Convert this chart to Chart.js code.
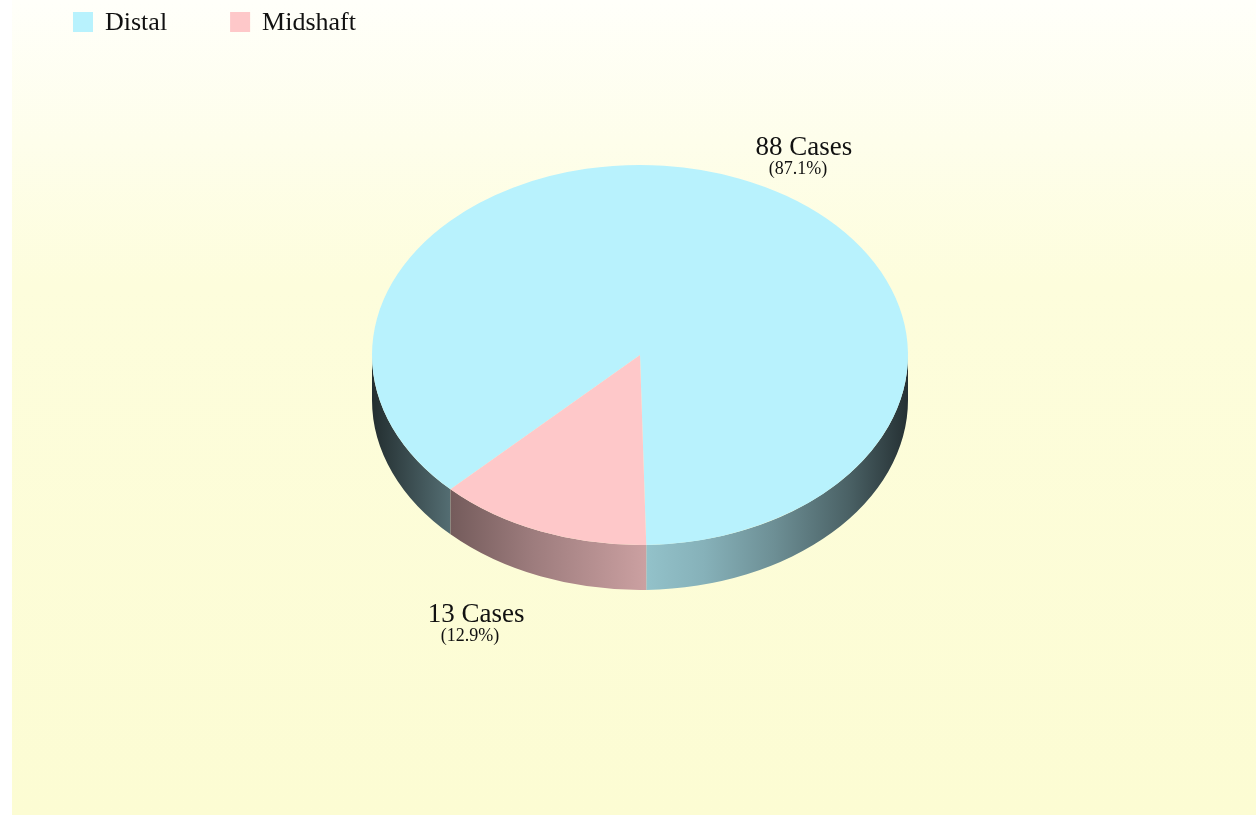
<!DOCTYPE html>
<html>
<head>
<meta charset="utf-8">
<script src="https://cdn.jsdelivr.net/npm/chart.js@4.4.0/dist/chart.umd.min.js"></script>
<style>
html,body{margin:0;padding:0;background:#ffffff;}
#wrap{width:1256px;height:815px;position:relative;}
</style>
</head>
<body>
<div id="wrap"><canvas id="c"></canvas></div>
<script>
// ---- data ----
const categories = ['Distal', 'Midshaft'];
const caseCounts = [88, 13];

// ---- styles ----
const topColors = ['#b8f2fd', '#fec8c9'];
const baseRGB = [[184, 242, 253], [254, 200, 201]];
const TILT = 190 / 268;
const DEPTH = 45;
const FONT = "'Liberation Serif', 'Times New Roman', serif";
const shadeStops = [[0, 0.19], [0.15, 0.46], [0.3, 0.62], [0.51, 0.8], [0.62, 0.73], [0.75, 0.59], [0.89, 0.4], [1, 0.2]];

function shade(rgb, f) {
  return 'rgb(' + rgb.map(v => Math.round(v * f)).join(',') + ')';
}

const total = caseCounts.reduce((a, b) => a + b, 0);

const pie3d = {
  id: 'pie3d',
  beforeDraw(chart) {
    const ctx = chart.ctx, w = chart.width, h = chart.height;
    ctx.save();
    ctx.fillStyle = '#ffffff';
    ctx.fillRect(0, 0, w, h);
    const g = ctx.createLinearGradient(0, 0, 0, h);
    g.addColorStop(0, '#fffffa');
    g.addColorStop(0.35, '#fdfddc');
    g.addColorStop(1, '#fcfcd3');
    ctx.fillStyle = g;
    ctx.fillRect(12, 0, w - 12, h);
    ctx.restore();
  },
  beforeDatasetsDraw(chart) {
    const ctx = chart.ctx;
    const meta = chart.getDatasetMeta(0);
    meta.data.forEach((arc, i) => {
      const p = arc.getProps(['x', 'y', 'startAngle', 'endAngle', 'outerRadius'], true);
      const r = p.outerRadius, ry = r * TILT;
      const g = ctx.createLinearGradient(p.x - r, 0, p.x + r, 0);
      shadeStops.forEach(([pos, f]) => g.addColorStop(pos, shade(baseRGB[i], f)));
      for (let k = -1; k <= 2; k++) {
        const a = Math.max(p.startAngle, 2 * Math.PI * k);
        const b = Math.min(p.endAngle, 2 * Math.PI * k + Math.PI);
        if (b > a) {
          ctx.beginPath();
          ctx.ellipse(p.x, p.y, r, ry, 0, a, b, false);
          ctx.ellipse(p.x, p.y + DEPTH, r, ry, 0, b, a, true);
          ctx.closePath();
          ctx.fillStyle = g;
          ctx.fill();
        }
      }
    });
    const cy = meta.data[0].y;
    ctx.save();
    ctx.translate(0, cy);
    ctx.scale(1, TILT);
    ctx.translate(0, -cy);
  },
  afterDatasetsDraw(chart) {
    const ctx = chart.ctx;
    ctx.restore();
    const meta = chart.getDatasetMeta(0);
    ctx.save();
    ctx.fillStyle = '#111111';
    ctx.textAlign = 'center';
    ctx.textBaseline = 'alphabetic';
    meta.data.forEach((arc, i) => {
      const p = arc.getProps(['x', 'y', 'startAngle', 'endAngle', 'outerRadius'], true);
      const mid = (p.startAngle + p.endAngle) / 2;
      const r = p.outerRadius, ry = r * TILT;
      const s = Math.sin(mid), c = Math.cos(mid);
      const lx = p.x + c * r * 1.645;
      const ly = p.y + s * ry * 1.195 + (s > 0 ? DEPTH : 0);
      const base = ly + 11;
      ctx.font = '27px ' + FONT;
      ctx.fillText(caseCounts[i] + ' Cases', lx, base);
      ctx.font = '18px ' + FONT;
      const pct = (caseCounts[i] / total * 100).toFixed(1);
      ctx.fillText('(' + pct + '%)', lx - 6, base + 19);
    });
    ctx.restore();
  },
  afterDraw(chart) {
    const ctx = chart.ctx;
    ctx.save();
    ctx.font = '26px ' + FONT;
    ctx.textBaseline = 'alphabetic';
    ctx.textAlign = 'left';
    let x = 73;
    categories.forEach((name, i) => {
      ctx.fillStyle = topColors[i];
      ctx.fillRect(x, 12, 20, 20);
      ctx.fillStyle = '#111111';
      ctx.fillText(name, x + 32, 30);
      x += 32 + ctx.measureText(name).width + 63;
    });
    ctx.restore();
  }
};

new Chart(document.getElementById('c'), {
  type: 'pie',
  data: {
    labels: categories,
    datasets: [{
      data: caseCounts,
      backgroundColor: topColors,
      borderWidth: 0,
      hoverOffset: 0
    }]
  },
  options: {
    responsive: true,
    maintainAspectRatio: false,
    animation: false,
    rotation: 225,
    layout: { padding: { left: 372, right: 348, top: 87, bottom: 192 } },
    plugins: {
      legend: { display: false },
      tooltip: { enabled: false }
    },
    events: []
  },
  plugins: [pie3d]
});
</script>
</body>
</html>
